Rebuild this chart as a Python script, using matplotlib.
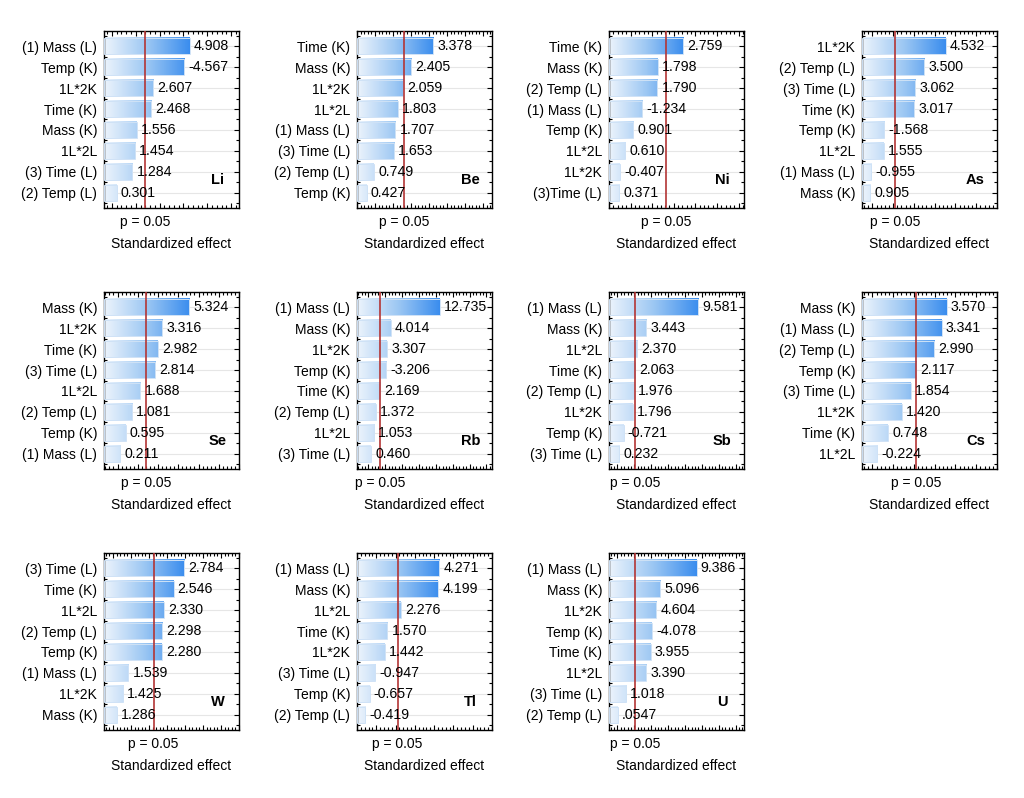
import numpy as np
import matplotlib
matplotlib.use("Agg")
import matplotlib.pyplot as plt
from matplotlib.colors import LinearSegmentedColormap, Normalize
from matplotlib.ticker import MaxNLocator, AutoMinorLocator
from matplotlib.transforms import blended_transform_factory

plt.rcParams["font.family"] = ["Liberation Sans", "DejaVu Sans"]

# effects per element, top bar first
li_terms = ["(1) Mass (L)", "Temp (K)", "1L*2K", "Time (K)", "Mass (K)", "1L*2L", "(3) Time (L)", "(2) Temp (L)"]
li_effects = [4.908, -4.567, 2.607, 2.468, 1.556, 1.454, 1.284, 0.301]

be_terms = ["Time (K)", "Mass (K)", "1L*2K", "1L*2L", "(1) Mass (L)", "(3) Time (L)", "(2) Temp (L)", "Temp (K)"]
be_effects = [3.378, 2.405, 2.059, 1.803, 1.707, 1.653, 0.749, 0.427]

ni_terms = ["Time (K)", "Mass (K)", "(2) Temp (L)", "(1) Mass (L)", "Temp (K)", "1L*2L", "1L*2K", "(3)Time (L)"]
ni_effects = [2.759, 1.798, 1.790, -1.234, 0.901, 0.610, -0.407, 0.371]

as_terms = ["1L*2K", "(2) Temp (L)", "(3) Time (L)", "Time (K)", "Temp (K)", "1L*2L", "(1) Mass (L)", "Mass (K)"]
as_effects = [4.532, 3.500, 3.062, 3.017, -1.568, 1.555, -0.955, 0.905]

se_terms = ["Mass (K)", "1L*2K", "Time (K)", "(3) Time (L)", "1L*2L", "(2) Temp (L)", "Temp (K)", "(1) Mass (L)"]
se_effects = [5.324, 3.316, 2.982, 2.814, 1.688, 1.081, 0.595, 0.211]

rb_terms = ["(1) Mass (L)", "Mass (K)", "1L*2K", "Temp (K)", "Time (K)", "(2) Temp (L)", "1L*2L", "(3) Time (L)"]
rb_effects = [12.735, 4.014, 3.307, -3.206, 2.169, 1.372, 1.053, 0.460]

sb_terms = ["(1) Mass (L)", "Mass (K)", "1L*2L", "Time (K)", "(2) Temp (L)", "1L*2K", "Temp (K)", "(3) Time (L)"]
sb_effects = [9.581, 3.443, 2.370, 2.063, 1.976, 1.796, -0.721, 0.232]

cs_terms = ["Mass (K)", "(1) Mass (L)", "(2) Temp (L)", "Temp (K)", "(3) Time (L)", "1L*2K", "Time (K)", "1L*2L"]
cs_effects = [3.570, 3.341, 2.990, 2.117, 1.854, 1.420, 0.748, -0.224]

w_terms = ["(3) Time (L)", "Time (K)", "1L*2L", "(2) Temp (L)", "Temp (K)", "(1) Mass (L)", "1L*2K", "Mass (K)"]
w_effects = [2.784, 2.546, 2.330, 2.298, 2.280, 1.539, 1.425, 1.286]

tl_terms = ["(1) Mass (L)", "Mass (K)", "1L*2L", "Time (K)", "1L*2K", "(3) Time (L)", "Temp (K)", "(2) Temp (L)"]
tl_effects = [4.271, 4.199, 2.276, 1.570, 1.442, -0.947, -0.657, -0.419]

u_terms = ["(1) Mass (L)", "Mass (K)", "1L*2K", "Temp (K)", "Time (K)", "1L*2L", "(3) Time (L)", "(2) Temp (L)"]
u_effects = [9.386, 5.096, 4.604, -4.078, 3.955, 3.390, 1.018, 0.0547]
u_value_text = [None, None, None, None, None, None, None, ".0547"]

p_crit = 2.1

panels = [
    ("Li", li_terms, li_effects),
    ("Be", be_terms, be_effects),
    ("Ni", ni_terms, ni_effects),
    ("As", as_terms, as_effects),
    ("Se", se_terms, se_effects),
    ("Rb", rb_terms, rb_effects),
    ("Sb", sb_terms, sb_effects),
    ("Cs", cs_terms, cs_effects),
    ("W", w_terms, w_effects),
    ("Tl", tl_terms, tl_effects),
    ("U", u_terms, u_effects),
]

# axis ranges per panel
x_ranges = {
    "Li": (-0.5, 8), "Be": (0, 6), "Ni": (0, 5), "As": (0.5, 7),
    "Se": (-1, 9), "Rb": (-2, 22), "Sb": (-1, 15), "Cs": (-0.5, 6),
    "W": (1, 4), "Tl": (0, 7), "U": (-1, 15),
}

W, H = 1024, 798
col_left = [104, 357, 609, 862]
row_top = [31, 292, 553]
ax_w, ax_h = 135, 177

cmap = LinearSegmentedColormap.from_list("bar", ["#edf4fc", "#9cc7f3", "#3a8dee"])

fig = plt.figure(figsize=(W / 100, H / 100), dpi=100)

for i, (elem, terms, effects) in enumerate(panels):
    r, c = divmod(i, 4)
    ax = fig.add_axes([col_left[c] / W, 1 - (row_top[r] + ax_h) / H, ax_w / W, ax_h / H])
    xmin, xmax = x_ranges[elem]
    n = len(terms)
    ys = np.arange(n)
    mags = np.abs(effects)
    norm = Normalize(xmin, mags.max())
    bh = 0.78

    for y in ys:
        ax.axhline(y, color="#e6e6e6", lw=0.8, zorder=0)

    for y, m, v in zip(ys, mags, effects):
        grad = np.linspace(xmin, m, 256).reshape(1, -1)
        ax.imshow(grad, cmap=cmap, norm=norm, aspect="auto",
                  extent=[xmin, m, y + bh / 2, y - bh / 2], zorder=2,
                  interpolation="bilinear")
        ax.add_patch(plt.Rectangle((xmin, y - bh / 2), m - xmin, bh, fill=False,
                                   ec="#cfe2f6", lw=0.7, zorder=3))

    labels_txt = [f"{v:.3f}" for v in effects]
    if elem == "U":
        labels_txt = [t if t else lab for t, lab in zip(u_value_text, labels_txt)]
    for y, m, t in zip(ys, mags, labels_txt):
        ax.annotate(t, (m, y), xytext=(3, 0), textcoords="offset points",
                    va="center", ha="left", fontsize=10.2, zorder=5)

    ax.axvline(p_crit, color="#b33535", lw=1.2, zorder=4)

    ax.set_xlim(xmin, xmax)
    ax.set_ylim(n - 1 + 0.72, -0.72)
    ax.set_yticks(ys)
    ax.set_yticklabels(terms, fontsize=10)
    ax.xaxis.set_major_locator(MaxNLocator(8))
    ax.xaxis.set_minor_locator(AutoMinorLocator(5))
    ax.yaxis.set_minor_locator(AutoMinorLocator(2))
    ax.tick_params(axis="both", which="both", direction="in", top=True, right=True,
                   labelbottom=False, width=0.8)
    ax.tick_params(axis="both", which="major", length=3.5, pad=5)
    ax.tick_params(axis="both", which="minor", length=2)
    for s in ax.spines.values():
        s.set_linewidth(1.0)

    ax.text(0.84, 0.16, elem, transform=ax.transAxes, ha="center", va="center",
            fontsize=10.5, fontweight="bold")
    tr = blended_transform_factory(ax.transData, ax.transAxes)
    ax.text(p_crit, -14 / ax_h, "p = 0.05", transform=tr, ha="center", va="center",
            fontsize=10)
    ax.text(0.5, -36 / ax_h, "Standardized effect", transform=ax.transAxes,
            ha="center", va="center", fontsize=10)

fig.savefig("out.png", dpi=100)
